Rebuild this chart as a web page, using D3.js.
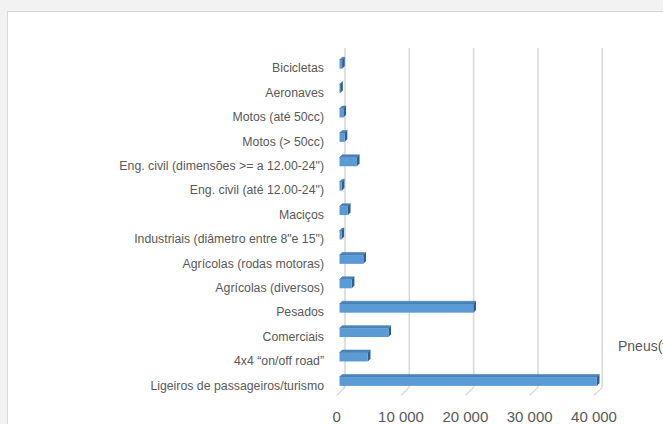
<!DOCTYPE html>
<html><head><meta charset="utf-8">
<script src="https://cdn.jsdelivr.net/npm/d3@7/dist/d3.min.js"></script>
<style>body{margin:0;background:#f2f2f2;overflow:hidden}svg{display:block}</style>
</head><body>
<svg id="c" width="663" height="424"></svg>
<script>
const categories = [
  "Bicicletas","Aeronaves","Motos (até 50cc)","Motos (> 50cc)",
  "Eng. civil (dimensões >= a 12.00-24\")","Eng. civil (até 12.00-24\")","Maciços",
  "Industriais (diâmetro entre 8\"e 15\")","Agrícolas (rodas motoras)","Agrícolas (diversos)",
  "Pesados","Comerciais","4x4 “on/off road”","Ligeiros de passageiros/turismo"
];
const values = [400, 100, 600, 800, 2700, 350, 1300, 300, 3700, 1900, 20800, 7600, 4400, 40000];
const tickValues = [0, 10000, 20000, 30000, 40000];
const seriesName = "Pneus(t)";

const svg = d3.select("#c");
svg.append("rect").attr("x",7.5).attr("y",11.5).attr("width",700).attr("height",450)
  .attr("fill","#fff").attr("stroke","#d9d9d9");

const x0 = 336.7, depth = 8.3, floorY = 395.5;
const x = d3.scaleLinear().domain([0,40000]).range([0,257.3]);
const y = d3.scaleBand().domain(categories).range([54.9,396.5]).paddingInner(0.64).paddingOuter(0.32);
const fmt = v => d3.format(",")(v).replace(/,/g," ");

// back wall gridlines
const g = svg.append("g");
tickValues.forEach(t=>{
  const xb = x0 + depth + x(t);
  g.append("line").attr("x1",xb).attr("x2",xb).attr("y1",48).attr("y2",floorY-depth)
    .attr("stroke","#d9d9d9").attr("stroke-width",1.6);
  g.append("line").attr("x1",x0+x(t)).attr("y1",floorY).attr("x2",xb).attr("y2",floorY-depth)
    .attr("stroke","#d9d9d9").attr("stroke-width",1.3);
  g.append("text").attr("x",x0+x(t)).attr("y",422).attr("text-anchor","middle")
    .attr("font-family","Liberation Sans, Arial, sans-serif").attr("font-size",15)
    .attr("fill","#595959").text(fmt(t));
});

// bars
const f1 = 0.34, f2 = 0.66;
const bars = svg.append("g");
categories.forEach((c,i)=>{
  const v = values[i];
  const w = x(v);
  const xf = x0 + f1*depth, yOff = -f1*depth;
  const yt = y(c) + yOff, h = y.bandwidth();
  const d = (f2-f1)*depth;
  // top face
  bars.append("path").attr("d",`M${xf},${yt}L${xf+d},${yt-d}L${xf+w+d},${yt-d}L${xf+w},${yt}Z`)
    .attr("fill","#4a85bd").attr("stroke","#3a6fa3").attr("stroke-width",0.5);
  // side face
  bars.append("path").attr("d",`M${xf+w},${yt}L${xf+w+d},${yt-d}L${xf+w+d},${yt+h-d}L${xf+w},${yt+h}Z`)
    .attr("fill","#2f5e8c");
  // front face
  bars.append("rect").attr("x",xf).attr("y",yt).attr("width",w).attr("height",h)
    .attr("fill","#5b9bd5");
  // label
  svg.append("text").attr("x",324).attr("y",y(c)+y.bandwidth()/2+1).attr("dy","0.35em")
    .attr("text-anchor","end").attr("font-family","Liberation Sans, Arial, sans-serif")
    .attr("font-size",12.3).attr("fill","#595959").text(c);
});

svg.append("text").attr("x",618).attr("y",346).attr("dy","0.35em")
  .attr("font-family","Liberation Sans, Arial, sans-serif").attr("font-size",14)
  .attr("fill","#595959").text(seriesName);
</script>
</body></html>
